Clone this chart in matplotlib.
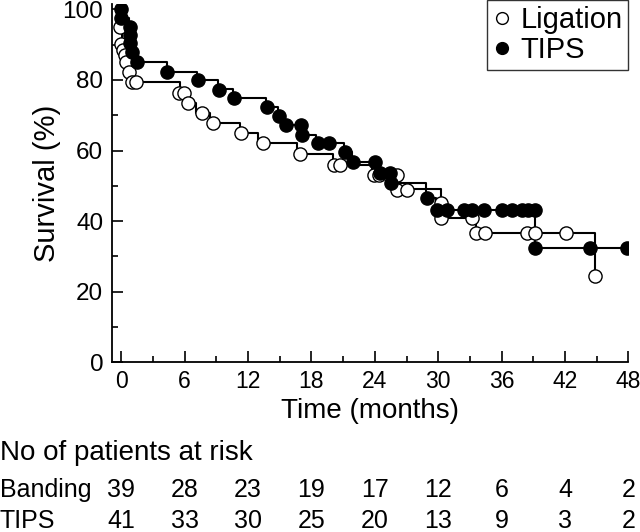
import numpy as np
import matplotlib
matplotlib.use('Agg')
import matplotlib.pyplot as plt
from matplotlib.lines import Line2D
from matplotlib.ticker import MultipleLocator
from matplotlib.transforms import blended_transform_factory

plt.rcParams['font.family'] = ['Liberation Sans', 'DejaVu Sans']

# Kaplan-Meier step curves (time in months, survival in %)
lig_t = [0, 0.05, 0.1, 0.25, 0.4, 0.55, 0.75, 1.0, 5.6, 6.2, 7.1, 8.4, 11.2, 12.9, 16.6, 20.0, 23.7, 26.0, 30.3, 33.6, 44.8]
lig_s = [100, 95, 90.3, 88.5, 87, 85.2, 82.4, 79.3, 76.4, 73.4, 70.6, 67.8, 65, 62.2, 59, 55.9, 53, 49, 40.8, 36.5, 24.4]
tips_t = [0, 0.05, 0.7, 0.8, 0.9, 1.0, 1.3, 4.3, 7.2, 9.2, 10.6, 13.7, 14.8, 15.5, 17.0, 18.4, 21.1, 21.8, 24.4, 25.4, 28.8, 29.8, 39.2, 48]
tips_s = [100, 97.6, 95, 92.8, 90.4, 88, 85.2, 82.4, 80, 77.4, 74.8, 72.3, 69.8, 67.3, 64.4, 62.1, 59.5, 56.7, 53.6, 50.7, 46.4, 43.1, 32.3, 32.3]

# circles on the curves
lig_mx = [-0.1, 0, 0.2, 0.35, 0.5, 0.7, 1.0, 1.4, 5.5, 5.9, 6.3, 7.6, 8.7, 11.3, 13.4, 16.9, 20.1, 20.7,
          23.9, 24.4, 26.1, 26.1, 27.0, 30.3, 30.3, 33.2, 33.6, 34.4, 38.4, 39.2, 42.1, 44.8]
lig_my = [95, 90.3, 88.5, 87, 85.2, 82.4, 79.5, 79.3, 76.4, 76.4, 73.4, 70.6, 67.8, 65, 62.2, 59, 55.9, 55.9,
          53, 53, 53, 48.8, 48.8, 45, 40.8, 40.8, 36.5, 36.5, 36.5, 36.5, 36.5, 24.4]
tips_mx = [0, 0, 0.8, 0.8, 0.8, 1.0, 1.45, 4.3, 7.3, 9.3, 10.7, 13.8, 14.9, 15.6, 17.0, 17.1, 18.6, 19.7,
           21.2, 21.9, 24.0, 24.5, 25.4, 25.5, 28.9, 29.9, 30.8, 32.4, 33.2, 34.3, 36.0, 37.0, 37.9, 38.5,
           39.2, 39.2, 44.4, 47.9]
tips_my = [100, 97.6, 95, 92.8, 90.4, 88, 85.2, 82.4, 80, 77.3, 74.8, 72.3, 69.7, 67.3, 67.3, 64.4, 62.2, 62.2,
           59.5, 56.7, 56.7, 53.6, 53.6, 50.7, 46.4, 43.1, 43.1, 43.1, 43.1, 43.1, 43.1, 43.1, 43.1, 43.1,
           43.1, 32.3, 32.3, 32.3]

risk_months = [0, 6, 12, 18, 24, 30, 36, 42, 48]
banding_risk = [39, 28, 23, 19, 17, 12, 6, 4, 2]
tips_risk = [41, 33, 30, 25, 20, 13, 9, 3, 2]

fig = plt.figure(figsize=(6.4, 5.32), dpi=100)
ax = fig.add_axes([0.1745, 0.3195, 0.8075, 0.6726])

ax.step(lig_t, lig_s, where='post', color='black', lw=1.5, zorder=2)
ax.step(tips_t, tips_s, where='post', color='black', lw=1.5, zorder=2)
ax.plot(lig_mx, lig_my, 'o', ms=9.5, mfc='white', mec='black', mew=1.0, zorder=3)
ax.plot(tips_mx, tips_my, 'o', ms=9.5, mfc='black', mec='black', mew=1.0, zorder=4)

ax.set_xlim(-0.9, 48)
ax.set_ylim(0, 101.5)
ax.set_xticks(risk_months)
ax.set_yticks([0, 20, 40, 60, 80, 100])
ax.xaxis.set_minor_locator(MultipleLocator(3))
ax.yaxis.set_minor_locator(MultipleLocator(10))
ax.tick_params(which='major', direction='in', length=8, width=1.2)
ax.tick_params(axis='x', which='major', pad=6, labelsize=16.5)
ax.tick_params(axis='y', which='major', pad=6, labelsize=17.5)
ax.tick_params(which='minor', direction='in', length=4, width=1.2)
for s in ['top', 'right']:
    ax.spines[s].set_visible(False)
for s in ['left', 'bottom']:
    ax.spines[s].set_linewidth(1.3)

ax.set_xlabel('Time (months)', fontsize=20, labelpad=3)
ax.set_ylabel('Survival (%)', fontsize=21, labelpad=1)

handles = [Line2D([], [], ls='none', marker='o', ms=8.5, mfc='white', mec='black', mew=1.0),
           Line2D([], [], ls='none', marker='o', ms=8.5, mfc='black', mec='black')]
leg = fig.legend(handles, ['Ligation', 'TIPS'], loc='upper right', bbox_to_anchor=(0.982, 1.0),
                 fontsize=21, frameon=True, fancybox=False, edgecolor='black', borderaxespad=0,
                 handlelength=0.6, handletextpad=0.35, borderpad=0.2, labelspacing=0.08)
leg.get_frame().set_linewidth(1.0)

# numbers at risk
trans = blended_transform_factory(ax.transData, fig.transFigure)
fig.text(0.0, 1 - 460 / 532, 'No of patients at risk', fontsize=20, va='baseline', ha='left')
fig.text(0.0, 1 - 497 / 532, 'Banding', fontsize=18, va='baseline', ha='left')
fig.text(0.0, 1 - 528 / 532, 'TIPS', fontsize=18, va='baseline', ha='left')
for m, b, t in zip(risk_months, banding_risk, tips_risk):
    ax.text(m, 1 - 497 / 532, str(b), transform=trans, fontsize=18, ha='center', va='baseline', clip_on=False)
    ax.text(m, 1 - 528 / 532, str(t), transform=trans, fontsize=18, ha='center', va='baseline', clip_on=False)

fig.savefig('out.png', dpi=100)
